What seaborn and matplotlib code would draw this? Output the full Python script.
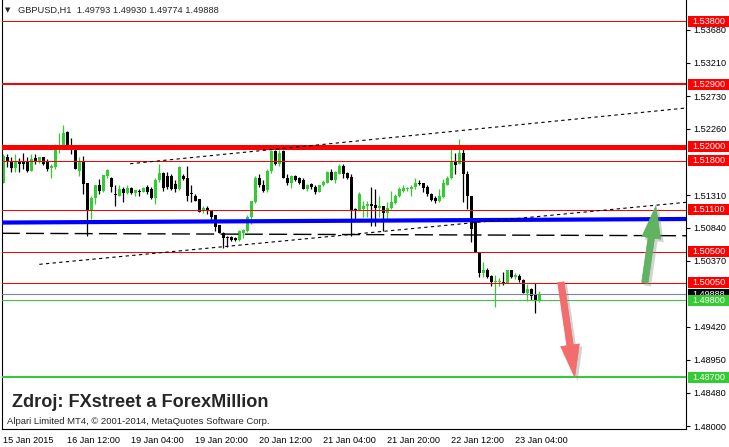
import numpy as np
import matplotlib
matplotlib.use("Agg")
import matplotlib.pyplot as plt
import matplotlib.transforms as mtransforms
import matplotlib.patheffects as pe
from matplotlib.patches import Rectangle
import seaborn as sns

# GBPUSD H1 candles (bar 0 = 15 Jan 20:00)
opens = [1.5149, 1.5186, 1.5180, 1.5170, 1.5179, 1.5179, 1.5179, 1.5166, 1.5184, 1.5178,
         1.5185, 1.5178, 1.5170, 1.5171, 1.5201, 1.5203, 1.5221, 1.5201, 1.5197, 1.5166,
         1.5180, 1.5148, 1.5110, 1.5127, 1.5146, 1.5137, 1.5158, 1.5156, 1.5132, 1.5130,
         1.5139, 1.5134, 1.5141, 1.5134, 1.5137, 1.5136, 1.5142, 1.5139, 1.5127, 1.5152,
         1.5162, 1.5158, 1.5158, 1.5147, 1.5140,
         1.5159, 1.5155, 1.5134, 1.5130, 1.5125, 1.5108, 1.5113, 1.5108, 1.5102, 1.5088,
         1.5077, 1.5071, 1.5071, 1.5069, 1.5066, 1.5077, 1.5079, 1.5099, 1.5121, 1.5156,
         1.5145, 1.5138, 1.5166, 1.5194, 1.5176, 1.5194, 1.5156, 1.5148, 1.5159, 1.5155,
         1.5152, 1.5139, 1.5147, 1.5143, 1.5136, 1.5145, 1.5149, 1.5164, 1.5153, 1.5161,
         1.5172, 1.5162, 1.5157, 1.5111, 1.5110,
         1.5111, 1.5115, 1.5118, 1.5117, 1.5113, 1.5115, 1.5105, 1.5113, 1.5119, 1.5130,
         1.5137, 1.5139, 1.5139, 1.5142, 1.5148, 1.5148, 1.5143, 1.5132, 1.5127, 1.5122,
         1.5128, 1.5146, 1.5155, 1.5179, 1.5175, 1.5192, 1.5161, 1.5129, 1.5092, 1.5048,
         1.5020, 1.5024, 1.5015, 1.5006, 1.5006, 1.5007, 1.5005, 1.5023, 1.5013, 1.5015,
         1.5009, 1.4991, 1.4996, 1.4988, 1.49793]
highs = [1.5190, 1.5190, 1.5186, 1.5190, 1.5184, 1.5192, 1.5185, 1.5190, 1.5190, 1.5186,
         1.5186, 1.5183, 1.5175, 1.5204, 1.5220, 1.5231, 1.5223, 1.5213, 1.5201, 1.5185,
         1.5187, 1.5149, 1.5129, 1.5146, 1.5154, 1.5160, 1.5168, 1.5157, 1.5145, 1.5145,
         1.5142, 1.5145, 1.5142, 1.5138, 1.5140, 1.5142, 1.5145, 1.5142, 1.5156, 1.5175,
         1.5164, 1.5164, 1.5161, 1.5152, 1.5173,
         1.5161, 1.5172, 1.5145, 1.5132, 1.5126, 1.5116, 1.5116, 1.5110, 1.5102, 1.5088,
         1.5078, 1.5072, 1.5072, 1.5071, 1.5081, 1.5083, 1.5102, 1.5123, 1.5159, 1.5161,
         1.5152, 1.5168, 1.5195, 1.5195, 1.5195, 1.5195, 1.5161, 1.5160, 1.5160, 1.5157,
         1.5156, 1.5147, 1.5148, 1.5145, 1.5146, 1.5152, 1.5166, 1.5168, 1.5166, 1.5175,
         1.5175, 1.5164, 1.5161, 1.5113, 1.5135,
         1.5123, 1.5123, 1.5142, 1.5140, 1.5129, 1.5116, 1.5121, 1.5137, 1.5133, 1.5142,
         1.5145, 1.5143, 1.5145, 1.5156, 1.5152, 1.5149, 1.5145, 1.5134, 1.5130, 1.5140,
         1.5154, 1.5159, 1.5197, 1.5192, 1.5211, 1.5197, 1.5166, 1.5130, 1.5095, 1.5050,
         1.5035, 1.5026, 1.5017, 1.5016, 1.5012, 1.5021, 1.5024, 1.5023, 1.5019, 1.5018,
         1.5010, 1.5004, 1.4998, 1.5005, 1.49930]
lows = [1.5149, 1.5171, 1.5164, 1.5164, 1.5164, 1.5168, 1.5164, 1.5166, 1.5175, 1.5177,
        1.5174, 1.5166, 1.5156, 1.5168, 1.5192, 1.5199, 1.5201, 1.5190, 1.5168, 1.5159,
        1.5133, 1.5073, 1.5097, 1.5118, 1.5133, 1.5135, 1.5156, 1.5135, 1.5116, 1.5130,
        1.5121, 1.5133, 1.5133, 1.5129, 1.5130, 1.5135, 1.5133, 1.5126, 1.5118, 1.5150,
        1.5137, 1.5140, 1.5138, 1.5135, 1.5138,
        1.5152, 1.5122, 1.5121, 1.5122, 1.5107, 1.5105, 1.5104, 1.5092, 1.5080, 1.5077,
        1.5055, 1.5057, 1.5065, 1.5065, 1.5065, 1.5070, 1.5078, 1.5090, 1.5119, 1.5142,
        1.5135, 1.5136, 1.5163, 1.5174, 1.5173, 1.5155, 1.5145, 1.5141, 1.5151, 1.5147,
        1.5139, 1.5137, 1.5140, 1.5132, 1.5135, 1.5144, 1.5148, 1.5152, 1.5149, 1.5161,
        1.5155, 1.5154, 1.5073, 1.5095, 1.5108,
        1.5099, 1.5099, 1.5086, 1.5086, 1.5099, 1.5079, 1.5097, 1.5111, 1.5118, 1.5128,
        1.5135, 1.5137, 1.5130, 1.5140, 1.5145, 1.5136, 1.5130, 1.5123, 1.5119, 1.5121,
        1.5127, 1.5145, 1.5154, 1.5161, 1.5175, 1.5121, 1.5111, 1.5064, 1.5050, 1.5014,
        1.5014, 1.5012, 1.5000, 1.4970, 1.5001, 1.5002, 1.5005, 1.5012, 1.5010, 1.5007,
        1.4990, 1.4979, 1.4981, 1.4962, 1.49774]
closes = [1.5187, 1.5178, 1.5170, 1.5178, 1.5176, 1.5175, 1.5165, 1.5182, 1.5178, 1.5185,
          1.5175, 1.5168, 1.5172, 1.5201, 1.5203, 1.5220, 1.5201, 1.5199, 1.5168, 1.5180,
          1.5147, 1.5110, 1.5127, 1.5146, 1.5137, 1.5160, 1.5167, 1.5142, 1.5131, 1.5139,
          1.5134, 1.5141, 1.5134, 1.5138, 1.5136, 1.5141, 1.5136, 1.5127, 1.5152, 1.5162,
          1.5141, 1.5142, 1.5140, 1.5140, 1.5171,
          1.5154, 1.5130, 1.5133, 1.5123, 1.5107, 1.5113, 1.5109, 1.5100, 1.5085, 1.5077,
          1.5070, 1.5070, 1.5066, 1.5066, 1.5079, 1.5081, 1.5099, 1.5122, 1.5156, 1.5145,
          1.5137, 1.5166, 1.5194, 1.5176, 1.5192, 1.5156, 1.5148, 1.5159, 1.5153, 1.5148,
          1.5139, 1.5146, 1.5142, 1.5136, 1.5145, 1.5150, 1.5164, 1.5153, 1.5164, 1.5172,
          1.5161, 1.5156, 1.5110, 1.5109, 1.5133,
          1.5116, 1.5118, 1.5116, 1.5113, 1.5115, 1.5105, 1.5113, 1.5121, 1.5130, 1.5140,
          1.5141, 1.5141, 1.5142, 1.5149, 1.5147, 1.5141, 1.5132, 1.5124, 1.5122, 1.5130,
          1.5148, 1.5156, 1.5178, 1.5174, 1.5192, 1.5161, 1.5129, 1.5083, 1.5050, 1.5020,
          1.5024, 1.5014, 1.5006, 1.5007, 1.5007, 1.5005, 1.5023, 1.5013, 1.5016, 1.5009,
          1.4991, 1.4996, 1.4987, 1.4980, 1.49888]

date_ticks = [0, 16, 32, 48, 64, 80, 96, 112, 128]
date_labels = ["15 Jan 2015", "16 Jan 12:00", "19 Jan 04:00", "19 Jan 20:00", "20 Jan 12:00",
               "21 Jan 04:00", "21 Jan 20:00", "22 Jan 12:00", "23 Jan 04:00"]
price_ticks = [1.48000, 1.48480, 1.48950, 1.49420, 1.50370, 1.50840, 1.51310,
               1.52260, 1.52730, 1.53210, 1.53680]

# horizontal levels
level_prices = [1.538, 1.529, 1.520, 1.518, 1.511, 1.505, 1.5005, 1.498, 1.487]
level_colors = ["red"] * 7 + ["limegreen"] * 2
level_px = [1, 2, 5, 1, 1, 1, 1, 1, 2]
bid_price = 1.49888

# drawn trend lines (bar, price)
blue_bars, blue_prices = [-0.4, 170.7], [1.50916, 1.50967]
dash_bars, dash_prices = [-0.4, 170.7], [1.50762, 1.50727]
upper_bars, upper_prices = [31.7, 170.7], [1.51759, 1.52558]
lower_bars, lower_prices = [9.0, 170.7], [1.50317, 1.51206]

# arrows (tail, tip)
green_arrow = ((160.4, 1.50049), (163.2, 1.51167))
red_arrow = ((139.4, 1.50064), (142.9, 1.48688))

GREEN = "#33cc33"
W, H = 729, 447

sns.set_style("white")
plt.rcParams["font.family"] = ["Liberation Sans", "DejaVu Sans"]

fig = plt.figure(figsize=(W / 100, H / 100), dpi=100)
ax = fig.add_axes([2 / W, 18 / H, 684 / W, 429 / H])
ax.set_xlim(-0.33, 170.7)
ax.set_ylim(1.47957, 1.54106)
ppx = (1.54106 - 1.47957) / 429  # price per pixel

o, hi, lo, c = map(np.array, (opens, highs, lows, closes))
x = np.arange(len(o))
cols = np.where(c >= o, GREEN, "black")
ax.vlines(x, lo, hi, colors=cols, lw=0.9, zorder=2)
ax.bar(x, np.maximum(np.abs(c - o), ppx), bottom=np.minimum(o, c), width=0.8,
       color=cols, lw=0, zorder=2.1)

for p, col, w in zip(level_prices, level_colors, level_px):
    ax.axhline(p, color=col, lw=w * 0.72, zorder=3)
ax.axhline(bid_price, color="#778899", lw=0.8, zorder=3)

sns.lineplot(x=blue_bars, y=blue_prices, ax=ax, color="#0000ff", lw=3.0, zorder=3)
sns.lineplot(x=dash_bars, y=dash_prices, ax=ax, color="black", lw=1.0,
             linestyle=(0, (13, 4.5)), zorder=3)
sns.lineplot(x=upper_bars, y=upper_prices, ax=ax, color="black", lw=0.8,
             linestyle=(0, (3, 3)), zorder=3)
sns.lineplot(x=lower_bars, y=lower_prices, ax=ax, color="black", lw=0.8,
             linestyle=(0, (3, 3)), zorder=3)

for (tail, tip), col in [(green_arrow, "#5fb35f"), (red_arrow, "#f46c6c")]:
    ann = ax.annotate("", xy=tip, xytext=tail,
                      arrowprops=dict(arrowstyle="simple,head_length=2.4,head_width=1.4,tail_width=0.5",
                                      fc=col, ec="none", alpha=0.9, shrinkA=0, shrinkB=0,
                                      mutation_scale=10))
    ann.arrow_patch.set_path_effects([pe.withSimplePatchShadow(offset=(2, -2), shadow_rgbFace="gray", alpha=0.35),
                                      pe.Normal()])

# axes styling
for s in ["left", "right", "bottom"]:
    ax.spines[s].set_color("black")
    ax.spines[s].set_linewidth(0.8)
ax.spines["top"].set_visible(False)

ax.yaxis.tick_right()
ax.set_yticks(price_ticks)
ax.set_yticklabels([f"{t:.5f}" for t in price_ticks])
ax.tick_params(axis="y", direction="out", length=3, width=0.8, pad=2, labelsize=6.6, colors="black")
ax.set_xticks(date_ticks)
ax.set_xticklabels(date_labels)
for lbl in ax.get_xticklabels():
    lbl.set_ha("left")
ax.tick_params(axis="x", direction="out", length=3, width=0.8, pad=2, labelsize=6.6, colors="black")
ax.set_xlabel("")
ax.set_ylabel("")

# price labels on the right scale
tr = mtransforms.blended_transform_factory(ax.transAxes, ax.transData)
box_prices = level_prices[:7] + [bid_price] + level_prices[7:]
box_colors = ["red"] * 7 + ["black"] + ["#33cc33"] * 2
for i, (p, col) in enumerate(zip(box_prices, box_colors)):
    ax.add_patch(Rectangle((1 + 2 / 684, p - 5.5 * ppx), 41 / 684, 11 * ppx, transform=tr,
                           facecolor=col, edgecolor="none", clip_on=False, zorder=5 + i * 0.01))
    ax.text(1 + 6 / 684, p, f"{p:.5f}", transform=tr, color="white", fontsize=6.6,
            va="center", ha="left", clip_on=False, zorder=5 + i * 0.01 + 0.005)

# header and footer text
fig.text(5 / W, 1 - 10.5 / H, "\u25bc", fontsize=5, va="center", ha="left",
         family=["DejaVu Sans"])
fig.text(18 / W, 1 - 10.5 / H, "GBPUSD,H1  1.49793 1.49930 1.49774 1.49888",
         fontsize=6.7, va="center", ha="left")
fig.text(12 / W, 1 - 407 / H, "Zdroj: FXstreet a ForexMillion", fontsize=13.1,
         fontweight="bold", va="baseline", ha="left")
fig.text(7 / W, 1 - 424.5 / H, "Alpari Limited MT4, \u00a9 2001-2014, MetaQuotes Software Corp.",
         fontsize=6.8, va="baseline", ha="left")

fig.savefig("out.png", dpi=100)
